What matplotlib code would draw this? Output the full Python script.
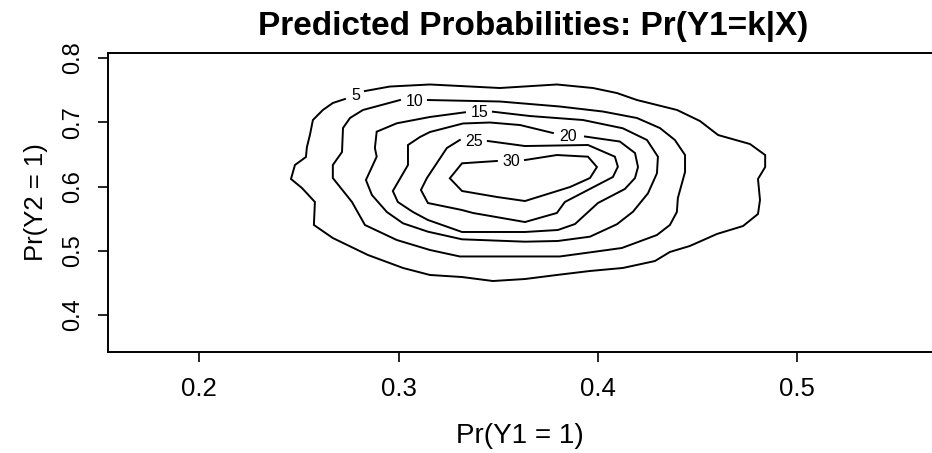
import matplotlib
matplotlib.use("Agg")
import matplotlib.pyplot as plt

plt.rcParams['font.family'] = ['Liberation Sans', 'DejaVu Sans']

title = "Predicted Probabilities: Pr(Y1=k|X)"
xlabel = "Pr(Y1 = 1)"
ylabel = "Pr(Y2 = 1)"
xticks = [0.2, 0.3, 0.4, 0.5]
yticks = [0.4, 0.5, 0.6, 0.7, 0.8]
levels = [5, 10, 15, 20, 25, 30]

# contour polylines (open at the label position)
c5_x = [0.2831, 0.2956, 0.3157, 0.3508, 0.3794, 0.3975, 0.4095, 0.4196, 0.4397, 0.4512,
        0.4603, 0.4763, 0.4839, 0.4839, 0.4803, 0.4813, 0.4803, 0.4728, 0.4597, 0.4461,
        0.4361, 0.4286, 0.4125, 0.3960, 0.3794, 0.3634, 0.3473, 0.3318, 0.3157, 0.3022,
        0.2846, 0.2670, 0.2575, 0.2580, 0.2515, 0.2460, 0.2480, 0.2535, 0.2540, 0.2555,
        0.2570, 0.2620, 0.2670, 0.2731]
c5_y = [0.7486, 0.7556, 0.7588, 0.7533, 0.7588, 0.7533, 0.7455, 0.7346, 0.7191, 0.7019,
        0.6801, 0.6661, 0.6490, 0.6303, 0.6117, 0.5790, 0.5572, 0.5385, 0.5261, 0.5074,
        0.4981, 0.4840, 0.4732, 0.4685, 0.4623, 0.4560, 0.4529, 0.4591, 0.4623, 0.4732,
        0.4934, 0.5198, 0.5401, 0.5759, 0.5977, 0.6117, 0.6335, 0.6459, 0.6615, 0.6802,
        0.7035, 0.7191, 0.7300, 0.7362]

c10_x = [0.3147, 0.3508, 0.3809, 0.4025, 0.4196, 0.4311, 0.4386, 0.4437, 0.4437, 0.4401,
         0.4396, 0.4361, 0.4296, 0.4120, 0.3975, 0.3809, 0.3307, 0.3157, 0.2991, 0.2831,
         0.2766, 0.2670, 0.2670, 0.2716, 0.2721, 0.2756, 0.2821, 0.3007]
c10_y = [0.7346, 0.7323, 0.7245, 0.7167, 0.7066, 0.6910, 0.6724, 0.6490, 0.6226, 0.5821,
         0.5603, 0.5401, 0.5245, 0.5043, 0.4981, 0.4911, 0.4911, 0.5012, 0.5167, 0.5401,
         0.5759, 0.6132, 0.6335, 0.6537, 0.6910, 0.7066, 0.7191, 0.7346]

c15_x = [0.3473, 0.3659, 0.3925, 0.4125, 0.4246, 0.4301, 0.4296, 0.4251, 0.4176, 0.4095,
         0.3960, 0.3799, 0.3634, 0.3318, 0.3147, 0.3022, 0.2941, 0.2866, 0.2836, 0.2890,
         0.2881, 0.2890, 0.2991, 0.3157, 0.3333]
c15_y = [0.7164, 0.7097, 0.7035, 0.6906, 0.6724, 0.6464, 0.6205, 0.5894, 0.5608, 0.5412,
         0.5219, 0.5152, 0.5141, 0.5178, 0.5297, 0.5427, 0.5603, 0.5868, 0.6101, 0.6464,
         0.6599, 0.6853, 0.6984, 0.7082, 0.7155]

c20_x = [0.3935, 0.4110, 0.4186, 0.4201, 0.4186, 0.4135, 0.4000, 0.3885, 0.3799, 0.3634,
         0.3318, 0.3147, 0.3072, 0.2996, 0.2971, 0.3047, 0.3047, 0.3107, 0.3157, 0.3323,
         0.3458, 0.3609, 0.3774]
c20_y = [0.6778, 0.6700, 0.6521, 0.6303, 0.6132, 0.5961, 0.5743, 0.5416, 0.5323, 0.5292,
         0.5292, 0.5479, 0.5603, 0.5759, 0.5930, 0.6335, 0.6646, 0.6770, 0.6848, 0.6981,
         0.6996, 0.6957, 0.6833]

c25_x = [0.3448, 0.3634, 0.3950, 0.4085, 0.4100, 0.4075, 0.3834, 0.3794, 0.3634, 0.3373,
         0.3318, 0.3147, 0.3112, 0.3142, 0.3242, 0.3307]
c25_y = [0.6708, 0.6630, 0.6646, 0.6464, 0.6308, 0.6148, 0.5759, 0.5588, 0.5447, 0.5588,
         0.5634, 0.5743, 0.5946, 0.6132, 0.6599, 0.6724]

c30_x = [0.3634, 0.3794, 0.3950, 0.3995, 0.3960, 0.3860, 0.3634, 0.3493, 0.3318, 0.3257,
         0.3318, 0.3493]
c30_y = [0.6412, 0.6490, 0.6464, 0.6303, 0.6132, 0.5992, 0.5774, 0.5837, 0.5930, 0.6128,
         0.6361, 0.6397]

label_x = [0.2786, 0.3082, 0.3405, 0.3849, 0.3378, 0.3563]
label_y = [0.7416, 0.7323, 0.7152, 0.6778, 0.6697, 0.6386]

contours_x = [c5_x, c10_x, c15_x, c20_x, c25_x, c30_x]
contours_y = [c5_y, c10_y, c15_y, c20_y, c25_y, c30_y]

fig = plt.figure(figsize=(9.32, 4.53), dpi=100)
ax = fig.add_axes([108 / 932, 1 - 352 / 453, 1 - 108 / 932, (352 - 53) / 453])

for xs, ys in zip(contours_x, contours_y):
    ax.plot(xs, ys, color='black', lw=1.4, solid_joinstyle='miter')

for lx, ly, lv in zip(label_x, label_y, levels):
    ax.text(lx, ly, str(lv), ha='center', va='center', fontsize=11.5, color='black')

ax.set_xlim(0.1542, 0.5676)
ax.set_ylim(0.3424, 0.8078)
ax.set_xticks(xticks)
ax.set_xticklabels([f"{v:.1f}" for v in xticks], fontsize=18.5)
ax.set_yticks(yticks)
ax.set_yticklabels([f"{v:.1f}" for v in yticks], fontsize=17, rotation=90, va='center')
ax.tick_params(axis='both', direction='out', length=7, width=1.2, colors='black')
ax.tick_params(axis='x', pad=11)
ax.tick_params(axis='y', pad=10)
for s in ['left', 'bottom', 'top']:
    ax.spines[s].set_linewidth(1.4)
ax.spines['right'].set_visible(False)

ax.set_xlabel(xlabel, fontsize=20, labelpad=16)
ax.set_ylabel(ylabel, fontsize=18.5, labelpad=10)
fig.text(533 / 932, 1 - 26 / 453, title, ha='center', va='center', fontsize=24, fontweight='bold')

fig.savefig("out.png", dpi=100)
